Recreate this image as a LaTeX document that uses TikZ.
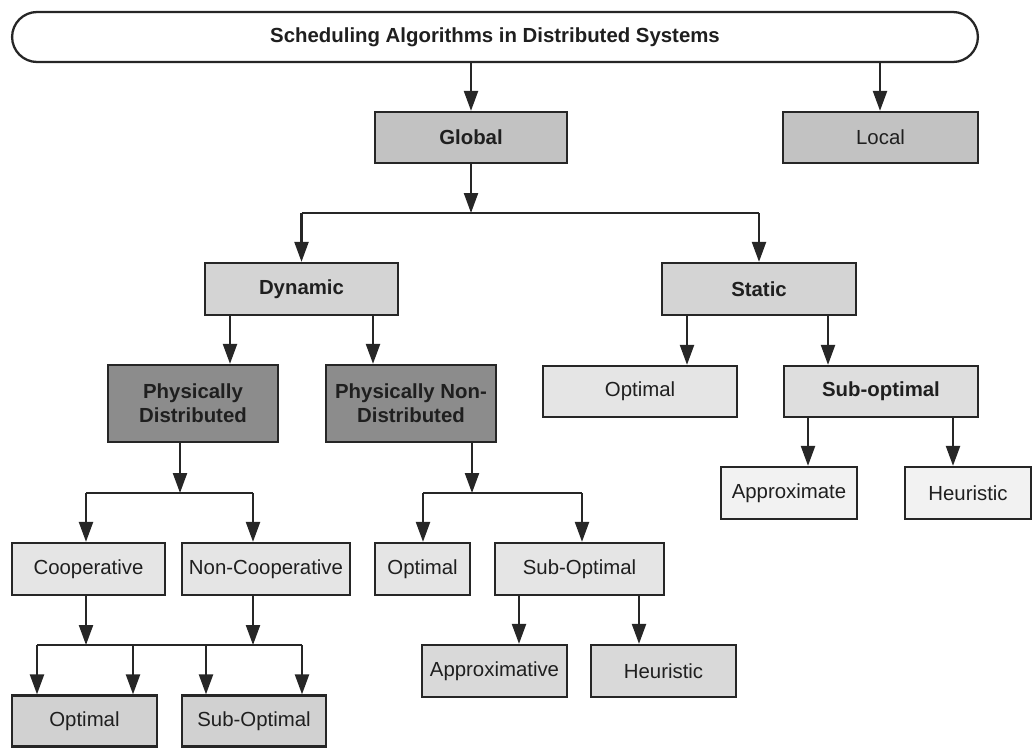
\documentclass[tikz,border=0pt]{standalone}
\usepackage{fontspec}
\setmainfont{Liberation Sans}
\usetikzlibrary{arrows.meta}

\begin{document}
\begin{tikzpicture}
          [x=0.02cm,y=-0.02cm,
           every node/.style={draw=black!85, line width=1.3pt, inner sep=0pt, text=black!88, align=center, font=\fontsize{11.6}{13.5}\selectfont},
           bold/.style={font=\fontsize{11.6}{13.5}\selectfont\bfseries},
           arr/.style={-{Triangle[length=4mm,width=2.8mm]}, line width=1.3pt, draw=black!85},
           ln/.style={line width=1.3pt, draw=black!85}]
        \useasboundingbox (0,0) rectangle (1033,750);

        % top levels
        \node[fill=white, rounded corners=0.5cm, minimum width=19.32cm, minimum height=1cm, bold] (title) at (495,37) {Scheduling Algorithms in Distributed Systems};
        \node[fill=black!24, bold, minimum width=3.84cm, minimum height=1.02cm] (global) at (471,137.5) {Global};
        \node[fill=black!24, minimum width=3.9cm, minimum height=1.02cm] (local) at (880.5,137.5) {Local};
        \node[fill=black!17, bold, minimum width=3.86cm, minimum height=1.04cm] (dynamic) at (301.5,289) {Dynamic};
        \node[fill=black!17, bold, minimum width=3.88cm, minimum height=1.04cm] (static) at (759,289) {Static};

        % dynamic side
        \node[fill=black!45, bold, minimum width=3.4cm, minimum height=1.54cm] (pd) at (193,403.5) {Physically\\Distributed};
        \node[fill=black!45, bold, minimum width=3.4cm, minimum height=1.54cm] (pnd) at (411,403.5) {Physically Non-\\Distributed};
        \node[fill=black!10, minimum width=3.06cm, minimum height=1.04cm] (coop) at (88.5,569) {Cooperative};
        \node[fill=black!10, minimum width=3.36cm, minimum height=1.04cm] (noncoop) at (266,569) {Non-Cooperative};
        \node[fill=black!18, minimum width=2.9cm, minimum height=1.02cm] (bopt) at (84.5,721) {Optimal};
        \node[fill=black!18, minimum width=2.88cm, minimum height=1.02cm] (bsub) at (254,721) {Sub-Optimal};
        \node[fill=black!10, minimum width=1.9cm, minimum height=1.04cm] (nopt) at (422.5,569) {Optimal};
        \node[fill=black!10, minimum width=3.38cm, minimum height=1.04cm] (nsub) at (579.5,569) {Sub-Optimal};
        \node[fill=black!15, minimum width=2.9cm, minimum height=1.04cm] (napprox) at (494.5,671) {Approximative};
        \node[fill=black!15, minimum width=2.9cm, minimum height=1.04cm] (nheur) at (663.5,671) {Heuristic};

        % static side
        \node[fill=black!10, minimum width=3.88cm, minimum height=1.02cm] (sopt) at (640,391.5) {Optimal};
        \node[fill=black!13, bold, minimum width=3.88cm, minimum height=1.02cm] (ssub) at (881,391.5) {Sub-optimal};
        \node[fill=black!5, minimum width=2.72cm, minimum height=1.04cm] (sapprox) at (789,493) {Approximate};
        \node[fill=black!5, minimum width=2.52cm, minimum height=1.04cm] (sheur) at (968,493) {Heuristic};

        % junctions
        \coordinate (jg) at (471,213);
        \coordinate (jpd) at (180,493);
        \coordinate (jpnd) at (472,493);
        \coordinate (jc) at (86,645);
        \coordinate (jn) at (253,645);

        % straight arrows
        \foreach \from/\to/\x in {title/global/471, title/local/880, dynamic/pd/230, dynamic/pnd/373, static/sopt/687, static/ssub/828, ssub/sapprox/808, ssub/sheur/953, nsub/napprox/519, nsub/nheur/639}
          \draw[arr] (\from.south -| \x,0) -- (\to.north -| \x,0);

        % arrows into junctions
        \draw[arr] (global.south) -- (jg);
        \draw[arr] (pd.south -| jpd) -- (jpd);
        \draw[arr] (pnd.south -| jpnd) -- (jpnd);
        \draw[arr] (coop.south -| jc) -- (jc);
        \draw[arr] (noncoop.south -| jn) -- (jn);

        % branches
        \draw[ln] (301.5,213) -- (759,213);
        \draw[ln] (86,493) -- (253,493);
        \draw[ln] (423,493) -- (582,493);
        \draw[ln] (37,645) -- (302,645);
        \foreach \to/\x/\y in {dynamic/301.5/213, static/759/213, coop/86/493, noncoop/253/493, nopt/423/493, nsub/582/493, bopt/37/645, bopt/133/645, bsub/206/645, bsub/302/645}
          \draw[arr] (\x,\y) -- (\to.north -| \x,0);
      \end{tikzpicture}
\end{document}
